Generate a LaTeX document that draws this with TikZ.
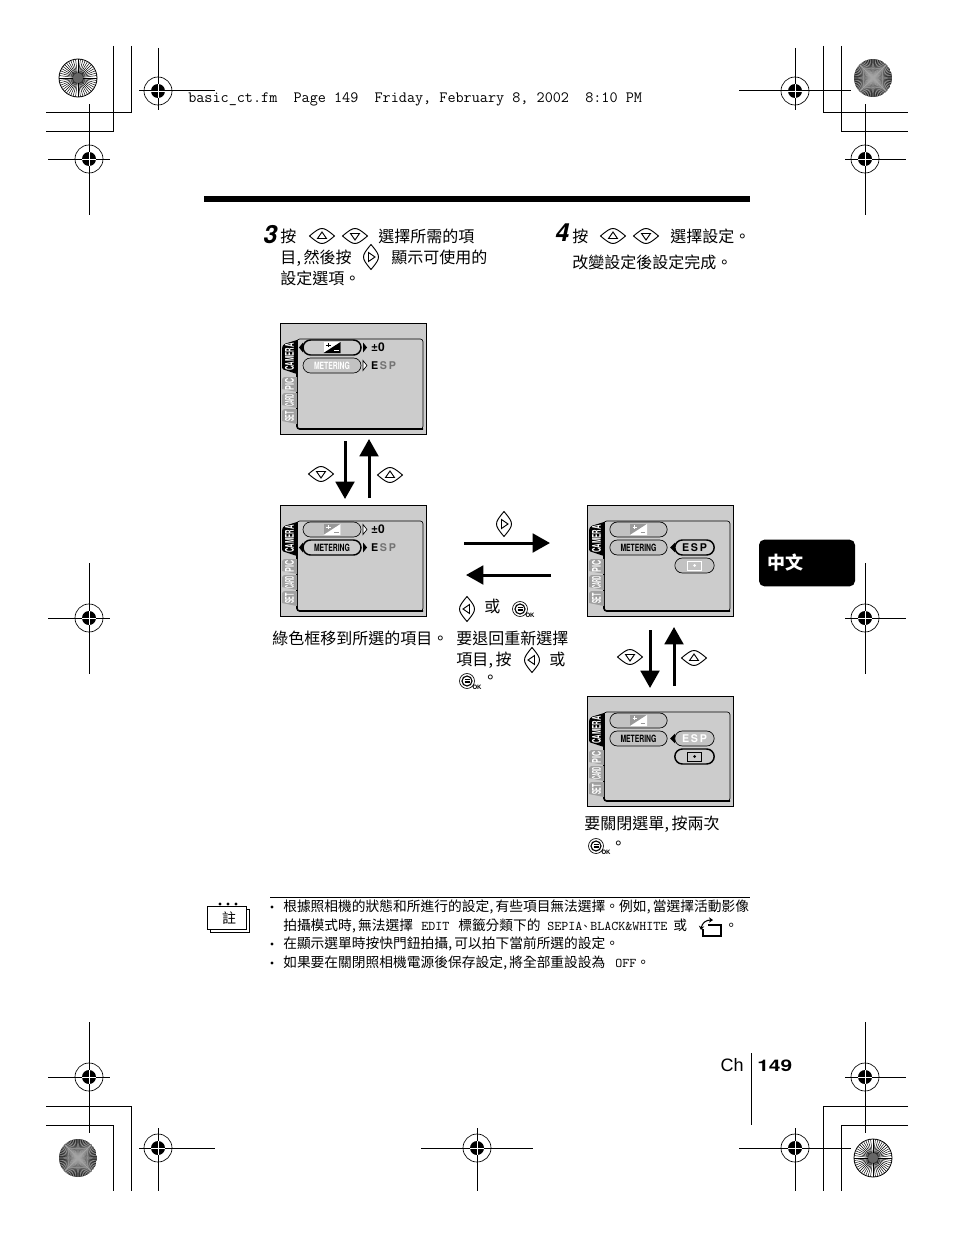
\documentclass[tikz,border=0pt]{standalone}
\usepackage{fontspec}
\setmainfont{Noto Sans CJK TC}
\newfontfamily\heros{TeX Gyre Heros}
\newfontfamily\arialfont{Liberation Sans}
\usetikzlibrary{arrows.meta,shapes.misc}
\definecolor{lcdgray}{HTML}{CCCCCC}
\definecolor{pillgray}{HTML}{C2C2C2}
\definecolor{tabgray}{HTML}{A0A0A0}
\newcommand{\cmm}{\kern.02em,\kern.16em}
\newcommand{\tabtext}[2]{\scalebox{#1}[1]{\heros\bfseries\fontsize{9}{9}\selectfont #2}}
\newcommand{\mettext}{\scalebox{.68}[1]{\heros\bfseries\fontsize{7.5}{8}\selectfont METERING}}

\newcommand{\regmark}[7]{%
  \coordinate (#1) at (#2,#3);
  \draw[markline] (#4,#3) -- (#5,#3);
  \draw[markline] (#2,#6) -- (#2,#7);
  \draw[line width=.5pt] (#1) circle (14);
  \fill (#1) circle (7);
  \draw[white, line width=.6pt] (#2-7,#3) -- (#2+7,#3) (#2,#3-7) -- (#2,#3+7);
}
\newcommand{\starspoke}[2]{%
  \begin{scope}[shift={(#1,#2)}]
  \draw[line width=.6pt, fill=white] (0,0) circle (19);
  \foreach \a in {0,7.5,...,352.5} \draw[line width=.35pt] (0,0) -- (\a:19);
  \fill[black!60] (0,0) circle (5);
  \end{scope}
}
\newcommand{\starmoire}[2]{%
  \begin{scope}[shift={(#1,#2)}]
  \clip (0,0) circle (19);
  \fill[black!85] (0,0) circle (19);
  \foreach \a in {-19,-17,...,19} {
    \draw[black!35, line width=.38pt] (-19,\a) -- (19,-\a);
    \draw[black!35, line width=.38pt] (\a,-19) -- (-\a,19);
  }
  \end{scope}
}
\newcommand{\eyebtn}[4]{%
  \begin{scope}[shift={(#2,#3)}, rotate=#4]
  \coordinate (#1) at (0,0);
  \draw[btnline] (-12.5,0) .. controls (-6,-5.5) and (-3,-7.5) .. (0,-7.5) .. controls (3,-7.5) and (6,-5.5) .. (12.5,0)
    .. controls (6,5.5) and (3,7.5) .. (0,7.5) .. controls (-3,7.5) and (-6,5.5) .. cycle;
  \draw[btnline] (-4.5,2.5) -- (0,-4) -- (4.5,2.5) -- cycle;
  \end{scope}
}
\newcommand{\menubtn}[3]{%
  \begin{scope}[shift={(#2,#3)}]
  \coordinate (#1) at (0,0);
  \draw[line width=.5pt] (0,0) circle (7.5);
  \draw[line width=.85pt] (0,0) circle (5);
  \draw[line width=.5pt] (-2.5,-1.8) -- (2.5,-1.8) (-2.5,0) -- (2.5,0) (-2.5,1.8) -- (2.5,1.8);
  \node[inner sep=0pt] (#1ok) at (10,6.5) {\heros\bfseries\fontsize{4.5}{5}\selectfont OK};
  \end{scope}
}
\newcommand{\evicon}[4]{%
  \fill[#3] (#1-8.5,#2-5.5) rectangle (#1+8.5,#2+5.5);
  \fill[#4] (#1-8.5,#2+5.5) -- (#1+8.5,#2-5.5) -- (#1+8.5,#2+5.5) -- cycle;
  \draw[#4, line width=.6pt] (#1-6,#2-2.5) -- (#1-1.5,#2-2.5) (#1-3.75,#2-4.5) -- (#1-3.75,#2-.5);
  \draw[#3, line width=.6pt] (#1+2,#2+3) -- (#1+6.5,#2+3);
}
\newcommand{\lcdscreen}[6]{% name, x, y, w, h, what is on it
  \begin{scope}[shift={(#2,#3)}]
  \node[lcdframe, minimum width=#4*.75pt, minimum height=#5*.75pt] (#1) at (#4/2,#5/2) {};
  \draw[rounded corners=2pt, line width=.5pt] (17,16) rectangle (143,#5-5);
  \draw[rounded corners=2pt, line width=1.2pt] (17,17) -- (17,#5-5) -- (143,#5-5);
  \fill[black, rounded corners=1pt] (17,17) -- (4,21) -- (2,24) -- (2,46) -- (17,51) -- cycle;
  \fill[tabgray] (17,54) -- (4,54) -- (2,56) -- (2,66) -- (17,69) -- cycle;
  \fill[tabgray] (17,70) -- (4,70) -- (2,72) -- (2,82) -- (17,85) -- cycle;
  \fill[tabgray] (17,86) -- (4,86) -- (2,88) -- (2,98) -- (17,101) -- cycle;
  \node[tablabel, text=white] (#1cam) at (9.5,34) {\tabtext{.52}{CAMERA}};
  \node[tablabel, text=white] (#1pic) at (9.5,61) {\tabtext{.6}{PIC}};
  \node[tablabel, text=white] (#1crd) at (9.5,77.5) {\tabtext{.36}{CARD}};
  \node[tablabel, text=white] (#1set) at (9.5,93.5) {\tabtext{.46}{SET}};
  #6
  \end{scope}
}

\begin{document}
\begin{tikzpicture}[x=.75pt, y=-.75pt]
\tikzstyle{markline}=[line width=.75pt]
\tikzstyle{btnline}=[line width=.7pt]
\tikzstyle{txt}=[anchor=base west, inner sep=0pt, font=\fontsize{12}{14}\selectfont]
\tikzstyle{smalltxt}=[anchor=base west, inner sep=0pt, font=\fontsize{10.3}{12}\selectfont]
\tikzstyle{monotxt}=[anchor=base west, inner sep=0pt, font=\ttfamily\fontsize{10}{12}\selectfont]
\tikzstyle{lcdframe}=[rectangle, draw, line width=.75pt, fill=lcdgray, inner sep=0pt]
\tikzstyle{tablabel}=[rotate=90, inner sep=0pt]
\tikzstyle{pilloff}=[rounded rectangle, draw, line width=.5pt, fill=pillgray, inner sep=0pt, minimum height=11.25pt]
\tikzstyle{pillon}=[rounded rectangle, draw, line width=1.1pt, fill=lcdgray, inner sep=0pt, minimum height=11.25pt]
\tikzstyle{flowarrow}=[line width=2.25pt, -{Triangle[length=13pt,width=14pt]}]
\useasboundingbox (0,0) rectangle (954,1238);

% crop marks
\draw[markline] (131,46) -- (131,112) -- (46,112);
\draw[markline] (113,46) -- (113,131) -- (46,131);
\draw[markline] (823,46) -- (823,112) -- (908,112);
\draw[markline] (841,46) -- (841,131) -- (908,131);
\draw[markline] (46,1106) -- (131,1106) -- (131,1191);
\draw[markline] (46,1125) -- (113,1125) -- (113,1191);
\draw[markline] (908,1106) -- (823,1106) -- (823,1191);
\draw[markline] (908,1125) -- (841,1125) -- (841,1191);

\regmark{R0}{158}{91}{139}{215}{48}{110}
\regmark{R1}{89}{159}{48}{110}{104}{215}
\regmark{R2}{795}{91}{739}{851}{48}{110}
\regmark{R3}{865}{159}{845}{906}{104}{215}
\regmark{R4}{89}{618}{48}{110}{563}{674}
\regmark{R5}{865}{618}{845}{906}{563}{674}
\regmark{R6}{89}{1077}{48}{110}{1022}{1133}
\regmark{R7}{865}{1077}{845}{906}{1022}{1133}
\regmark{R8}{158}{1148}{139}{215}{1128}{1191}
\regmark{R9}{477}{1148}{421}{533}{1128}{1191}
\regmark{R10}{795}{1148}{739}{851}{1128}{1191}

\starspoke{78}{78}
\starmoire{873}{78}
\starmoire{78}{1158}
\starspoke{873}{1158}

\node[anchor=base west, inner sep=0pt, font=\ttfamily\fontsize{11.8}{12}\selectfont] (header) at (188,103) {basic\_ct.fm\ \ Page 149\ \ Friday, February 8, 2002\ \ 8:10 PM};
\fill (204,196) rectangle (750,202);

% steps
\node[anchor=base west, inner sep=0pt, font=\heros\bfseries\itshape\fontsize{18.75}{20}\selectfont] (step3) at (263,243) {3};
\node[txt] (T3a) at (280,242) {按};
\eyebtn{B3u}{322}{236}{0}
\eyebtn{B3d}{355}{236}{180}
\node[txt] (T3b) at (378,242) {選擇所需的項};
\node[txt] (T3c) at (280,263) {目\cmm 然後按};
\eyebtn{B3r}{371}{257}{-90}
\node[txt] (T3d) at (391,263) {顯示可使用的};
\node[txt] (T3e) at (280,284) {設定選項。};

\node[anchor=base west, inner sep=0pt, font=\heros\bfseries\itshape\fontsize{18.75}{20}\selectfont] (step4) at (555,241) {4};
\node[txt] (T4a) at (572,242) {按};
\eyebtn{B4u}{613}{236}{0}
\eyebtn{B4d}{646}{236}{180}
\node[txt] (T4b) at (670,242) {選擇設定。};
\node[txt] (T4c) at (572,268) {改變設定後設定完成。};

% screens
\lcdscreen{S1}{280}{323}{146.5}{111}{
  \node[pillon, minimum width=43.5pt] (S1p) at (52,24.5) {};
  \evicon{52}{24.5}{white}{black}
  \fill (23,19.5) -- (19,24.5) -- (23,29.5) -- cycle;
  \fill (83,19.5) -- (87,24.5) -- (83,29.5) -- cycle;
  \node[inner sep=0pt, font=\heros\bfseries\fontsize{9}{9}\selectfont] (S1v) at (98,24.5) {±0};
  \node[pilloff, minimum width=43.5pt, text=white] (S1m) at (52,42.5) {\mettext};
  \draw[line width=.5pt, fill=white] (83,37.5) -- (87,42.5) -- (83,47.5) -- cycle;
  \node[inner sep=0pt, font=\heros\bfseries\fontsize{8}{8}\selectfont] (S1e) at (103.5,42.5) {E{\color{black!55}\,S\,P}};
}
\lcdscreen{S2}{280}{505}{146.5}{111}{
  \node[pilloff, minimum width=43.5pt] (S2p) at (52,24.5) {};
  \evicon{52}{24.5}{black!40}{white}
  \draw[line width=.5pt, fill=white] (83,19.5) -- (87,24.5) -- (83,29.5) -- cycle;
  \node[inner sep=0pt, font=\heros\bfseries\fontsize{9}{9}\selectfont] (S2v) at (98,24.5) {±0};
  \node[pillon, minimum width=43.5pt] (S2m) at (52,42.5) {\mettext};
  \fill (23,37.5) -- (19,42.5) -- (23,47.5) -- cycle;
  \fill (83,37.5) -- (87,42.5) -- (83,47.5) -- cycle;
  \node[inner sep=0pt, font=\heros\bfseries\fontsize{8}{8}\selectfont] (S2e) at (103.5,42.5) {E{\color{black!55}\,S\,P}};
}
\lcdscreen{S3}{587}{505}{146.5}{111}{
  \node[pilloff, minimum width=43pt] (S3p) at (51.5,24.5) {};
  \evicon{51.5}{24.5}{black!40}{white}
  \node[pilloff, minimum width=43pt] (S3m) at (51.5,42.5) {\mettext};
  \fill (88,37.5) -- (83,42.5) -- (88,47.5) -- cycle;
  \node[pillon, minimum width=29.5pt] (S3e) at (107.5,42.5) {\heros\bfseries\fontsize{8}{8}\selectfont E\,S\,P};
  \node[pilloff, minimum width=29.5pt] (S3d) at (107.5,60.5) {};
  \draw[white, line width=.7pt] (100.5,56) rectangle (114.5,65);
  \fill[white] (107.5,60.5) circle (1.5);
}
\lcdscreen{S4}{587}{696}{146.5}{110}{
  \node[pilloff, minimum width=43pt] (S4p) at (51.5,24.5) {};
  \evicon{51.5}{24.5}{black!40}{white}
  \node[pilloff, minimum width=43pt] (S4m) at (51.5,42.5) {\mettext};
  \fill (88,37.5) -- (83,42.5) -- (88,47.5) -- cycle;
  \node[pilloff, minimum width=29.5pt, text=white] (S4e) at (107.5,42.5) {\heros\bfseries\fontsize{8}{8}\selectfont E\,S\,P};
  \node[pillon, minimum width=29.5pt] (S4d) at (107.5,60.5) {};
  \draw[line width=.7pt] (100.5,56) rectangle (114.5,65);
  \fill (107.5,60.5) circle (1.5);
}

% arrows
\coordinate (A1a) at (345,441);
\coordinate (A1b) at (345,499);
\coordinate (A2a) at (369,498);
\coordinate (A2b) at (369,439);
\coordinate (A3a) at (464,543);
\coordinate (A3b) at (550,543);
\coordinate (A4a) at (551,575);
\coordinate (A4b) at (466,575);
\coordinate (A5a) at (650,630);
\coordinate (A5b) at (650,688);
\coordinate (A6a) at (674,686);
\coordinate (A6b) at (674,627);
\draw[flowarrow] (A1a) -- (A1b);
\draw[flowarrow] (A2a) -- (A2b);
\draw[flowarrow] (A3a) -- (A3b);
\draw[flowarrow] (A4a) -- (A4b);
\draw[flowarrow] (A5a) -- (A5b);
\draw[flowarrow] (A6a) -- (A6b);

\eyebtn{B1d}{321}{474}{180}
\eyebtn{B1u}{390}{475}{0}
\eyebtn{B5d}{630}{657}{180}
\eyebtn{B5u}{694}{658}{0}
\eyebtn{B2r}{504}{524}{-90}
\eyebtn{B2l}{467}{609}{90}
\node[txt] (T5a) at (484,612) {或};
\menubtn{M1}{520}{609}

\node[txt] (T6) at (272,644) {綠色框移到所選的項目。};
\node[txt] (T7a) at (456,644) {要退回重新選擇};
\node[txt] (T7b) at (456,665) {項目\cmm 按};
\eyebtn{B7l}{532}{660}{90}
\node[txt] (T7c) at (549,665) {或};
\menubtn{M2}{467}{681}
\node[txt] (T7d) at (482,683) {。};
\node[txt] (T8a) at (584,829) {要關閉選單\cmm 按兩次};
\menubtn{M3}{596}{846}
\node[txt] (T8b) at (610,849) {。};

% chapter tab
\node[rectangle, rounded corners=4pt, fill=black, minimum width=72pt, minimum height=35pt, inner sep=0pt] (chtab) at (807,563) {};
\node[anchor=west, inner sep=0pt, text=white, font=\bfseries\fontsize{13.5}{14}\selectfont] (chtext) at (767,563) {中文};

% note
\draw[line width=.75pt] (270,897) -- (750,897);
\draw[line width=.75pt] (210,906) -- (210,932) -- (249,932) -- (249,909) -- (245,909);
\draw[line width=.75pt, fill=white] (207,906) rectangle (246,929);
\foreach \x in {220,228,236} \fill (\x,904) circle (1.6);
\node[inner sep=0pt, font=\fontsize{10.5}{11}\selectfont] (noteicon) at (229,918) {註};
\foreach \y in {907,944,963} \fill (272,\y) circle (1.6);
\node[smalltxt] (N1) at (283,911) {根據照相機的狀態和所進行的設定\cmm 有些項目無法選擇。例如\cmm 當選擇活動影像};
\node[smalltxt] (N2a) at (283,930) {拍攝模式時\cmm 無法選擇};
\node[monotxt] (N2b) at (421,930) {EDIT};
\node[smalltxt] (N2c) at (458,930) {標籤分類下的};
\node[monotxt] (N2d) at (547,930) {SEPIA};
\node[anchor=base west, inner sep=0pt, font=\fontsize{8}{9}\selectfont] (N2e) at (580,930) {、};
\node[monotxt] (N2f) at (590,930) {BLACK\&WHITE};
\node[smalltxt] (N2g) at (673,930) {或};
\draw[line width=.8pt] (703,929) -- (703,936) -- (721,936) -- (721,925) -- (708,925);
\draw[line width=.8pt, {Stealth[length=3pt,width=4pt]}-{Stealth[length=3pt,width=4pt]}] (701,930) .. controls (702,923) and (706,920) .. (713,920);
\node[smalltxt] (N2h) at (724,930) {。};
\node[smalltxt] (N3) at (283,948) {在顯示選單時按快門鈕拍攝\cmm 可以拍下當前所選的設定。};
\node[smalltxt] (N4a) at (283,967) {如果要在關閉照相機電源後保存設定\cmm 將全部重設設為};
\node[monotxt] (N4b) at (615,967) {OFF};
\node[smalltxt] (N4c) at (636,967) {。};

% page number
\node[anchor=base east, inner sep=0pt, font=\arialfont\fontsize{13.5}{14}\selectfont] (chname) at (744,1071) {Ch};
\draw[line width=.75pt] (751.5,1053) -- (751.5,1125);
\node[anchor=base west, inner sep=0pt] (pageno) at (757,1071) {\scalebox{1.31}[1]{\heros\bfseries\fontsize{12}{12}\selectfont 149}};
\end{tikzpicture}
\end{document}
